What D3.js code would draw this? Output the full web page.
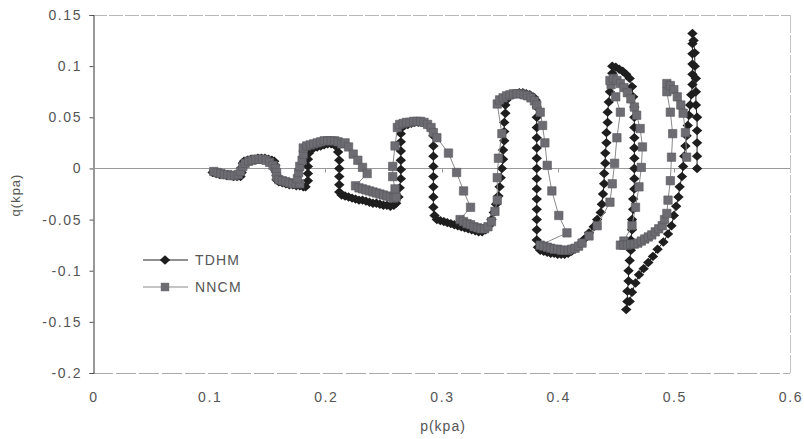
<!DOCTYPE html>
<meta charset="utf-8">
<style>
body { margin: 0; background: #fff; }
text { font-family: "Liberation Sans", Arial, sans-serif; fill: #555; }
.tick-label { font-size: 14px; letter-spacing: 1.6px; }
</style>
<body>
<div id="draw"></div>
<script src="https://cdnjs.cloudflare.com/ajax/libs/d3/7.8.5/d3.min.js"></script>
<script>

// p(kpa), q(kpa)
var tdhm = [
  [0.103,-0.004],[0.106,-0.005],[0.109,-0.006],[0.112,-0.006],[0.115,-0.007],[0.118,-0.007],[0.121,-0.008],[0.124,-0.008],[0.127,-0.008],
  [0.128,-0.004],[0.128,0.001],[0.129,0.005],
  [0.130,0.007],[0.133,0.008],[0.136,0.009],[0.139,0.009],[0.142,0.010],[0.145,0.010],[0.148,0.010],[0.151,0.009],[0.154,0.008],[0.156,0.007],
  [0.157,0.003],[0.157,-0.002],[0.158,-0.007],[0.158,-0.011],
  [0.160,-0.013],[0.163,-0.014],[0.166,-0.015],[0.169,-0.016],[0.172,-0.016],[0.175,-0.017],[0.178,-0.017],[0.181,-0.018],[0.183,-0.018],
  [0.185,-0.012],[0.185,-0.005],[0.185,0.002],[0.185,0.009],[0.186,0.015],
  [0.187,0.018],[0.190,0.020],[0.193,0.021],[0.196,0.022],[0.199,0.023],[0.202,0.024],[0.205,0.024],[0.208,0.023],[0.210,0.021],
  [0.211,0.016],[0.212,0.008],[0.212,0.000],[0.212,-0.008],[0.212,-0.016],[0.212,-0.023],
  [0.214,-0.026],[0.217,-0.027],[0.220,-0.028],[0.223,-0.029],[0.226,-0.030],[0.229,-0.031],[0.232,-0.031],[0.235,-0.032],[0.238,-0.033],
  [0.241,-0.034],[0.244,-0.034],[0.247,-0.035],[0.250,-0.036],[0.253,-0.036],[0.256,-0.037],[0.259,-0.036],[0.261,-0.034],
  [0.263,-0.028],[0.264,-0.019],[0.265,-0.010],[0.265,-0.001],[0.265,0.008],[0.265,0.017],[0.265,0.026],[0.265,0.034],
  [0.266,0.040],[0.268,0.042],[0.271,0.043],[0.274,0.044],[0.277,0.045],[0.280,0.045],[0.283,0.045],[0.286,0.044],[0.289,0.042],[0.291,0.039],
  [0.293,0.032],[0.293,0.022],[0.293,0.012],[0.293,0.002],[0.293,-0.008],[0.293,-0.018],[0.293,-0.028],[0.293,-0.038],[0.294,-0.046],
  [0.296,-0.050],[0.299,-0.051],[0.302,-0.052],[0.305,-0.053],[0.308,-0.054],[0.311,-0.055],[0.314,-0.056],[0.317,-0.057],
  [0.320,-0.058],[0.323,-0.059],[0.326,-0.060],[0.329,-0.061],[0.332,-0.062],[0.335,-0.062],[0.338,-0.060],[0.341,-0.056],
  [0.343,-0.050],[0.345,-0.043],[0.347,-0.035],[0.349,-0.027],[0.350,-0.018],[0.351,-0.009],[0.352,0.000],[0.353,0.009],
  [0.353,0.018],[0.354,0.027],[0.354,0.036],[0.354,0.045],[0.355,0.054],[0.355,0.062],
  [0.356,0.067],[0.358,0.070],[0.361,0.072],[0.364,0.073],[0.367,0.074],[0.370,0.074],[0.373,0.073],[0.376,0.072],[0.379,0.070],[0.381,0.067],
  [0.382,0.060],[0.382,0.050],[0.382,0.040],[0.382,0.030],[0.382,0.020],[0.382,0.010],[0.382,0.000],[0.382,-0.010],
  [0.382,-0.020],[0.382,-0.030],[0.382,-0.040],[0.382,-0.050],[0.382,-0.060],[0.382,-0.070],[0.383,-0.077],
  [0.385,-0.080],[0.388,-0.081],[0.391,-0.082],[0.394,-0.083],[0.397,-0.083],[0.400,-0.084],[0.403,-0.084],[0.406,-0.084],[0.409,-0.083],[0.412,-0.081],
  [0.415,-0.078],[0.419,-0.074],[0.423,-0.069],[0.427,-0.063],[0.431,-0.057],[0.434,-0.050],
  [0.437,-0.043],[0.438,-0.035],[0.439,-0.025],[0.440,-0.015],[0.440,-0.005],[0.441,0.005],[0.441,0.015],[0.442,0.025],
  [0.442,0.035],[0.443,0.045],[0.443,0.055],[0.444,0.065],[0.445,0.075],[0.446,0.085],[0.447,0.093],
  [0.447,0.100],[0.450,0.099],[0.453,0.097],[0.456,0.095],[0.459,0.092],[0.462,0.088],
  [0.464,0.080],[0.465,0.070],[0.466,0.060],[0.466,0.050],[0.466,0.040],[0.466,0.030],[0.466,0.020],[0.466,0.010],
  [0.466,0.000],[0.466,-0.010],[0.466,-0.020],[0.465,-0.030],[0.465,-0.040],[0.464,-0.050],[0.464,-0.060],[0.463,-0.070],
  [0.463,-0.080],[0.462,-0.090],[0.461,-0.100],[0.461,-0.110],[0.460,-0.120],[0.460,-0.130],[0.459,-0.138],
  [0.462,-0.130],[0.464,-0.121],[0.467,-0.112],[0.470,-0.104],[0.474,-0.098],[0.478,-0.092],[0.482,-0.086],[0.486,-0.079],
  [0.491,-0.072],[0.495,-0.064],[0.498,-0.056],[0.500,-0.046],[0.502,-0.037],
  [0.504,-0.028],[0.505,-0.018],[0.507,-0.008],[0.508,0.002],[0.509,0.012],[0.510,0.022],[0.511,0.032],[0.512,0.042],
  [0.513,0.052],[0.514,0.062],[0.515,0.072],[0.516,0.082],[0.516,0.092],[0.516,0.102],[0.516,0.112],[0.516,0.122],[0.516,0.132],
  [0.517,0.125],[0.518,0.113],[0.518,0.100],[0.519,0.088],[0.519,0.075],[0.519,0.062],[0.520,0.050],[0.520,0.037],
  [0.520,0.025],[0.520,0.012],[0.520,0.000]
];

var nncm = [
  [0.104,-0.003],[0.107,-0.004],[0.110,-0.005],[0.113,-0.006],[0.116,-0.006],[0.119,-0.007],[0.122,-0.007],[0.125,-0.006],
  [0.127,-0.003],[0.129,0.002],[0.131,0.005],[0.134,0.007],[0.137,0.008],[0.140,0.009],[0.143,0.009],[0.146,0.009],
  [0.149,0.008],[0.152,0.006],[0.155,0.003],[0.157,0.000],[0.158,-0.004],[0.158,-0.008],
  [0.160,-0.011],[0.163,-0.012],[0.166,-0.013],[0.169,-0.014],[0.172,-0.015],[0.175,-0.015],[0.178,-0.015],
  [0.176,-0.010],[0.177,-0.004],[0.178,0.002],[0.180,0.008],[0.181,0.014],
  [0.181,0.020],[0.184,0.022],[0.187,0.023],[0.190,0.024],[0.193,0.025],[0.196,0.026],[0.199,0.027],[0.202,0.027],
  [0.205,0.027],[0.208,0.027],[0.211,0.026],[0.214,0.024],
  [0.217,0.025],[0.220,0.021],[0.224,0.014],[0.228,0.008],[0.232,0.001],[0.236,-0.005],
  [0.226,-0.017],[0.229,-0.019],[0.232,-0.020],[0.235,-0.021],[0.238,-0.022],[0.241,-0.023],[0.244,-0.024],[0.247,-0.025],
  [0.250,-0.026],[0.253,-0.027],[0.256,-0.028],[0.259,-0.029],[0.261,-0.028],
  [0.260,-0.020],[0.258,-0.008],[0.258,0.002],[0.260,0.022],[0.262,0.040],
  [0.264,0.043],[0.267,0.044],[0.270,0.045],[0.273,0.045],[0.276,0.046],[0.279,0.046],[0.282,0.046],[0.285,0.045],
  [0.288,0.043],[0.291,0.040],[0.293,0.035],
  [0.296,0.030],[0.306,0.015],[0.313,-0.004],[0.319,-0.022],[0.325,-0.038],
  [0.316,-0.050],[0.319,-0.052],[0.322,-0.054],[0.325,-0.055],[0.328,-0.057],[0.331,-0.058],[0.334,-0.059],[0.337,-0.059],[0.340,-0.057],
  [0.343,-0.052],[0.346,-0.042],[0.348,-0.031],[0.348,-0.009],[0.349,0.010],[0.352,0.034],[0.348,0.063],
  [0.350,0.067],[0.353,0.069],[0.356,0.071],[0.359,0.072],[0.362,0.073],[0.365,0.073],[0.368,0.073],[0.371,0.072],
  [0.374,0.071],[0.377,0.069],[0.380,0.066],[0.382,0.062],
  [0.385,0.055],[0.387,0.042],[0.389,0.025],[0.391,0.003],[0.395,-0.022],[0.401,-0.046],[0.408,-0.063],
  [0.385,-0.075],[0.388,-0.076],[0.391,-0.077],[0.394,-0.078],[0.397,-0.079],[0.400,-0.079],[0.403,-0.080],[0.406,-0.080],
  [0.409,-0.080],[0.412,-0.079],[0.415,-0.078],[0.418,-0.076],[0.421,-0.073],
  [0.427,-0.066],[0.434,-0.056],[0.445,-0.033],[0.447,-0.015],[0.449,0.005],[0.451,0.030],[0.454,0.055],
  [0.450,0.070],[0.446,0.082],[0.445,0.086],[0.448,0.088],[0.451,0.086],[0.454,0.083],[0.457,0.079],[0.460,0.074],
  [0.463,0.068],[0.466,0.060],[0.468,0.052],
  [0.471,0.039],[0.473,0.021],[0.472,0.001],[0.470,-0.018],[0.467,-0.038],[0.464,-0.056],[0.457,-0.071],
  [0.454,-0.075],[0.457,-0.075],[0.460,-0.075],[0.463,-0.074],[0.466,-0.074],[0.469,-0.073],[0.472,-0.071],[0.475,-0.069],
  [0.478,-0.067],[0.481,-0.065],[0.484,-0.062],[0.487,-0.059],[0.490,-0.056],[0.492,-0.050],[0.494,-0.044],
  [0.495,-0.031],[0.497,-0.012],[0.498,0.011],[0.499,0.034],[0.497,0.055],[0.494,0.075],[0.494,0.083],
  [0.497,0.081],[0.500,0.077],[0.503,0.070],[0.506,0.062],[0.508,0.054],[0.510,0.035],[0.511,0.011]
];

var seriesNames = ["TDHM", "NNCM"];
var xTicks = [0, 0.1, 0.2, 0.3, 0.4, 0.5, 0.6];
var yTicks = [0.15, 0.1, 0.05, 0, -0.05, -0.1, -0.15, -0.2];

var W = 804, H = 439;
var plot = {left: 93, top: 15, right: 790, bottom: 373};

var x = d3.scaleLinear().domain([0, 0.6]).range([plot.left, plot.right]);
var y = d3.scaleLinear().domain([-0.2, 0.15]).range([plot.bottom, plot.top]);

function fmt(d) { return String(+d.toFixed(2)); }

var svg = d3.select("#draw").append("svg")
    .attr("width", W)
    .attr("height", H);

// frame
svg.append("line")
    .attr("x1", plot.left).attr("x2", plot.right)
    .attr("y1", plot.top + 0.5).attr("y2", plot.top + 0.5)
    .attr("stroke", "#b8b8b8").attr("stroke-dasharray", "14,2");
svg.append("line")
    .attr("x1", plot.right + 0.5).attr("x2", plot.right + 0.5)
    .attr("y1", plot.top).attr("y2", plot.bottom)
    .attr("stroke", "#c4c4c4").attr("stroke-dasharray", "18,2");
svg.append("line")
    .attr("x1", plot.left).attr("x2", plot.right)
    .attr("y1", plot.bottom + 0.5).attr("y2", plot.bottom + 0.5)
    .attr("stroke", "#aaa").attr("stroke-dasharray", "20,3");

// y axis
var yAxis = d3.axisLeft(y).tickValues(yTicks).tickSize(4).tickPadding(9).tickFormat(fmt);
var gy = svg.append("g")
    .attr("transform", "translate(" + (plot.left + 0.5) + ",0)")
    .call(yAxis);
gy.select(".domain").attr("stroke", "#333");
gy.selectAll(".tick line").attr("stroke", "#555");
gy.selectAll(".tick text")
    .attr("class", "tick-label")
    .attr("dx", "1.6px");
gy.attr("font-family", null).attr("font-size", null);

// zero line with its ticks
svg.append("line")
    .attr("x1", plot.left).attr("x2", plot.right)
    .attr("y1", Math.round(y(0)) + 0.5).attr("y2", Math.round(y(0)) + 0.5)
    .attr("stroke", "#999");
svg.selectAll(".ztick")
    .data(xTicks.slice(1, -1))
    .enter().append("line")
    .attr("class", "ztick")
    .attr("x1", function(d) { return Math.round(x(d)) + 0.5; })
    .attr("x2", function(d) { return Math.round(x(d)) + 0.5; })
    .attr("y1", y(0)).attr("y2", y(0) + 4)
    .attr("stroke", "#999");

// x tick labels (low position)
svg.selectAll(".xlab")
    .data(xTicks)
    .enter().append("text")
    .attr("class", "tick-label")
    .attr("x", function(d) { return x(d) + 1; })
    .attr("y", 402)
    .attr("text-anchor", "middle")
    .text(fmt);

// axis titles
svg.append("text")
    .attr("x", 443).attr("y", 431)
    .attr("text-anchor", "middle")
    .style("font-size", "14px").style("letter-spacing", "1px")
    .text("p(kpa)");
svg.append("text")
    .attr("transform", "translate(20,195) rotate(-90)")
    .attr("text-anchor", "middle")
    .style("font-size", "13px").style("letter-spacing", "1px")
    .text("q(kpa)");

var line = d3.line()
    .x(function(d) { return x(d[0]); })
    .y(function(d) { return y(d[1]); });

var diamond = "M0,-4.7L5.2,0L0,4.7L-5.2,0Z";
var square = "M-4.2,-4.2h8.4v8.4h-8.4Z";

// TDHM
svg.append("path")
    .datum(tdhm)
    .attr("d", line)
    .attr("fill", "none")
    .attr("stroke", "#222")
    .attr("stroke-width", 1);
svg.selectAll(".tdhm")
    .data(tdhm)
    .enter().append("path")
    .attr("class", "tdhm")
    .attr("d", diamond)
    .attr("transform", function(d) { return "translate(" + x(d[0]) + "," + y(d[1]) + ")"; })
    .attr("fill", "#1e1e1e");

// NNCM
svg.append("path")
    .datum(nncm)
    .attr("d", line)
    .attr("fill", "none")
    .attr("stroke", "#8a8a8a")
    .attr("stroke-width", 1);
svg.selectAll(".nncm")
    .data(nncm)
    .enter().append("path")
    .attr("class", "nncm")
    .attr("d", square)
    .attr("transform", function(d) { return "translate(" + x(d[0]) + "," + y(d[1]) + ")"; })
    .attr("fill", "#6c6c72")
    .attr("stroke", "#58585e")
    .attr("stroke-width", 0.6);

// legend
var legend = svg.selectAll(".legend")
    .data(seriesNames)
    .enter().append("g")
    .attr("class", "legend")
    .attr("transform", function(d, i) { return "translate(0," + (260 + i * 27) + ")"; });

legend.append("line")
    .attr("x1", 143).attr("x2", 188)
    .attr("y1", 0).attr("y2", 0)
    .attr("stroke", function(d, i) { return i ? "#8a8a8a" : "#222"; });

legend.append("path")
    .attr("d", function(d, i) { return i ? square : diamond; })
    .attr("transform", "translate(165,0)")
    .attr("fill", function(d, i) { return i ? "#6c6c72" : "#1e1e1e"; });

legend.append("text")
    .attr("x", 195)
    .attr("y", 5)
    .style("font-size", "14px").style("letter-spacing", "1.2px")
    .text(function(d) { return d; });

</script>
